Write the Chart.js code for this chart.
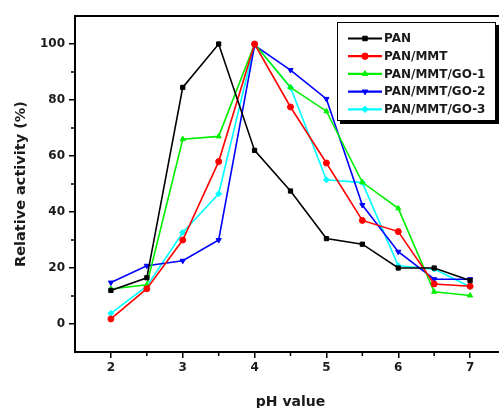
<!DOCTYPE html>
<html>
<head>
<meta charset="utf-8">
<script src="https://cdn.jsdelivr.net/npm/chart.js@4.4.1/dist/chart.umd.min.js"></script>
<style>
    html, body { margin: 0; padding: 0; background: #fff; overflow: hidden; }
    #quadro { width: 499px; height: 408px; overflow: hidden; }
    #grafico { display: block; }
</style>
</head>
<body>
<div id="quadro">
    <canvas id="grafico" width="511" height="408"></canvas>
</div>
<script>
// Dados do gráfico
const valoresPH = [2, 2.5, 3, 3.5, 4, 4.5, 5, 5.5, 6, 6.5, 7];
const serieNomes = ['PAN', 'PAN/MMT', 'PAN/MMT/GO-1', 'PAN/MMT/GO-2', 'PAN/MMT/GO-3'];
const atividadePan = [12, 16.5, 84.5, 100, 62, 47.5, 30.5, 28.5, 20, 20, 15.5];
const atividadeMmt = [1.8, 12.6, 30, 58, 100, 77.5, 57.5, 37, 33, 14.3, 13.5];
const atividadeGo1 = [12.5, 14, 66, 67, 100, 84.5, 76, 50.6, 41.3, 11.5, 10.2];
const atividadeGo2 = [14.8, 20.8, 22.6, 30, 99.5, 90.7, 80.4, 42.5, 25.8, 16, 16];
const atividadeGo3 = [3.8, 13.5, 32.7, 46.5, 100, 84.5, 51.5, 50.5, 20.8, 19.6, 13.3];
const ticksX = [2, 3, 4, 5, 6, 7];
const ticksY = [0, 20, 40, 60, 80, 100];

const fonteBase = 'DejaVu Sans, Arial, sans-serif';

function montarPontos(valores) {
    return valoresPH.map((ph, i) => ({ x: ph, y: valores[i] }));
}

function montarSerie(nome, valores, cor, estilo, rotacao) {
    return {
        label: nome,
        data: montarPontos(valores),
        borderColor: cor,
        backgroundColor: cor,
        borderWidth: 1.6,
        pointStyle: estilo,
        rotation: rotacao || 0,
        pointRadius: 3,
        pointBorderWidth: 1,
        tension: 0
    };
}

// Caixa da legenda com sombra, desenhada por cima do gráfico
const pluginLegenda = {
    id: 'legendaCaixa',
    afterDraw(chart) {
        const ctx = chart.ctx;
        const x0 = 337, y0 = 22, largura = 159, altura = 99;
        ctx.save();
        ctx.fillStyle = '#000';
        ctx.fillRect(x0 + 3, y0 + 3, largura, altura);
        ctx.fillStyle = '#fff';
        ctx.fillRect(x0, y0, largura, altura);
        ctx.strokeStyle = '#000';
        ctx.lineWidth = 1;
        ctx.strokeRect(x0 + 0.5, y0 + 0.5, largura - 1, altura - 1);

        chart.data.datasets.forEach((ds, i) => {
            const y = 38.5 + i * 17.7;
            ctx.strokeStyle = ds.borderColor;
            ctx.fillStyle = ds.backgroundColor;
            ctx.lineWidth = 2.2;
            ctx.beginPath();
            ctx.moveTo(348, y);
            ctx.lineTo(382, y);
            ctx.stroke();
            ctx.lineWidth = 1;
            Chart.helpers.drawPoint(ctx, {
                pointStyle: ds.pointStyle,
                rotation: ds.rotation,
                radius: 3.2,
                borderWidth: 1
            }, 365, y);
            ctx.fillStyle = '#1a1a1a';
            ctx.font = 'bold 12px ' + fonteBase;
            ctx.textBaseline = 'middle';
            ctx.textAlign = 'left';
            ctx.fillText(ds.label, 384, y + 0.5);
        });
        ctx.restore();
    }
};

// Borda superior e ticks menores
const pluginMoldura = {
    id: 'moldura',
    afterDatasetsDraw(chart) {
        const { ctx, chartArea } = chart;
        const escalaX = chart.scales.x;
        const escalaY = chart.scales.y;
        ctx.save();
        ctx.strokeStyle = '#000';
        ctx.lineWidth = 2;
        ctx.beginPath();
        ctx.moveTo(chartArea.left - 1, chartArea.top);
        ctx.lineTo(chartArea.right + 1, chartArea.top);
        ctx.stroke();

        ctx.lineWidth = 1.5;
        ctx.beginPath();
        for (let i = 0; i < ticksX.length - 1; i++) {
            const px = escalaX.getPixelForValue((ticksX[i] + ticksX[i + 1]) / 2);
            ctx.moveTo(px, chartArea.bottom);
            ctx.lineTo(px, chartArea.bottom + 4);
        }
        for (let i = 0; i < ticksY.length - 1; i++) {
            const py = escalaY.getPixelForValue((ticksY[i] + ticksY[i + 1]) / 2);
            ctx.moveTo(chartArea.left, py);
            ctx.lineTo(chartArea.left - 4, py);
        }
        ctx.stroke();
        ctx.restore();
    }
};

function criarGrafico() {
    const ctx = document.getElementById('grafico').getContext('2d');
    const cores = ['#000000', '#ff0000', '#00f000', '#0000ff', '#00ffff'];

    const config = {
        type: 'line',
        data: {
            datasets: [
                montarSerie(serieNomes[0], atividadePan, cores[0], 'rect'),
                montarSerie(serieNomes[1], atividadeMmt, cores[1], 'circle'),
                montarSerie(serieNomes[2], atividadeGo1, cores[2], 'triangle'),
                montarSerie(serieNomes[3], atividadeGo2, cores[3], 'triangle', 180),
                montarSerie(serieNomes[4], atividadeGo3, cores[4], 'rectRot')
            ]
        },
        options: {
            responsive: false,
            animation: false,
            // o canvas é mais largo que a janela: a figura original está recortada à direita
            layout: { padding: { top: 16, right: 0, left: 0, bottom: 0 } },
            plugins: {
                legend: { display: false },
                tooltip: { enabled: false }
            },
            scales: {
                x: {
                    type: 'linear',
                    min: 1.5,
                    max: 7.5,
                    afterBuildTicks: (escala) => { escala.ticks = ticksX.map(v => ({ value: v })); },
                    afterFit: (escala) => { escala.height = 56; },
                    grid: {
                        drawOnChartArea: false,
                        drawTicks: true,
                        tickLength: 6,
                        color: '#000',
                        lineWidth: 1.5
                    },
                    border: { display: true, color: '#000', width: 2 },
                    ticks: {
                        color: '#1a1a1a',
                        padding: 3,
                        maxRotation: 0,
                        font: { family: fonteBase, size: 12, weight: 'bold' }
                    },
                    title: {
                        display: true,
                        text: 'pH value',
                        color: '#1a1a1a',
                        padding: { top: 4, bottom: -3 },
                        font: { family: fonteBase, size: 14, weight: 'bold' }
                    }
                },
                y: {
                    min: -10,
                    max: 110,
                    afterBuildTicks: (escala) => { escala.ticks = ticksY.map(v => ({ value: v })); },
                    afterFit: (escala) => { escala.width = 75; },
                    grid: {
                        drawOnChartArea: false,
                        drawTicks: true,
                        tickLength: 6,
                        color: '#000',
                        lineWidth: 1.5
                    },
                    border: { display: true, color: '#000', width: 2 },
                    ticks: {
                        color: '#1a1a1a',
                        padding: 4,
                        font: { family: fonteBase, size: 12, weight: 'bold' }
                    },
                    title: {
                        display: true,
                        text: 'Relative activity (%)',
                        color: '#1a1a1a',
                        padding: { top: 13, bottom: 2 },
                        font: { family: fonteBase, size: 14.5, weight: 'bold' }
                    }
                }
            }
        },
        plugins: [pluginMoldura, pluginLegenda]
    };

    return new Chart(ctx, config);
}

document.addEventListener('DOMContentLoaded', () => {
    criarGrafico();
});
</script>
</body>
</html>
